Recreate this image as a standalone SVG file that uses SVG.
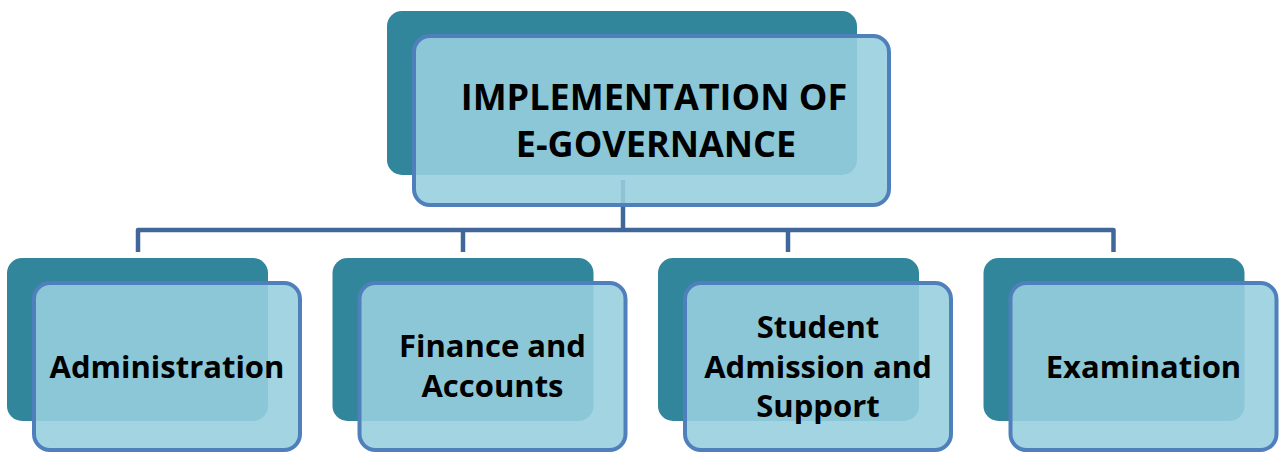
<svg xmlns="http://www.w3.org/2000/svg" width="1279" height="453" viewBox="0 0 1279 453">
<style>
.back{fill:#31869c;}
.front{fill:#98cfde;fill-opacity:0.89;stroke:#4f80bc;stroke-width:4;}
.conn{fill:none;stroke:#41679a;stroke-width:4.5;stroke-linejoin:round;stroke-linecap:butt;}
.t{font-family:"Open Sans","Liberation Sans",sans-serif;font-weight:bold;fill:#000;text-anchor:middle;}
.tb{font-size:31px;}
.tt{font-size:36px;}
</style>
<rect width="1279" height="453" fill="#fff"/>
<g id="connectors">
<path class="conn" d="M623 180 V230"/>
<path class="conn" d="M138 252 V230 H1113.5 V252"/>
<path class="conn" d="M463 230 V252"/>
<path class="conn" d="M788 230 V252"/>
</g>
<g id="node-top">
<rect class="back" x="387" y="11" width="470" height="164" rx="15"/>
<rect class="front" x="414" y="36" width="475" height="169" rx="16"/>
<text class="t tt" x="654" y="110">IMPLEMENTATION OF</text>
<text class="t tt" x="656" y="157">E-GOVERNANCE</text>
</g>
<g id="node-administration">
<rect class="back" x="7" y="258" width="261" height="163" rx="15"/>
<rect class="front" x="34" y="283" width="266" height="167" rx="16"/>
<text class="t tb" x="167" y="378">Administration</text>
</g>
<g id="node-finance">
<rect class="back" x="332.5" y="258" width="261" height="163" rx="15"/>
<rect class="front" x="359.5" y="283" width="266" height="167" rx="16"/>
<text class="t tb" x="492.5" y="357">Finance and</text>
<text class="t tb" x="492.5" y="397">Accounts</text>
</g>
<g id="node-student">
<rect class="back" x="658" y="258" width="261" height="163" rx="15"/>
<rect class="front" x="685" y="283" width="266" height="167" rx="16"/>
<text class="t tb" x="818" y="338">Student</text>
<text class="t tb" x="818" y="378">Admission and</text>
<text class="t tb" x="818" y="417">Support</text>
</g>
<g id="node-examination">
<rect class="back" x="983.5" y="258" width="261" height="163" rx="15"/>
<rect class="front" x="1010.5" y="283" width="266" height="167" rx="16"/>
<text class="t tb" x="1143.5" y="378">Examination</text>
</g>
</svg>
